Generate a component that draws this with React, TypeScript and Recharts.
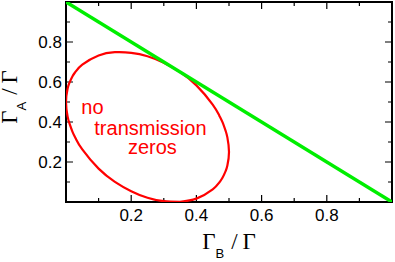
import React from "react";
import { LineChart, Line, XAxis, YAxis, ReferenceDot, ReferenceArea } from "recharts";

// tick marks (inward, on all four sides); labels only on the major ones
const majorTicks = [0.2, 0.4, 0.6, 0.8];
const allTicks = [0.1, 0.2, 0.3, 0.4, 0.5, 0.6, 0.7, 0.8, 0.9];

// green boundary  Γ_A + Γ_B = Γ
const boundary = [
  { x: 0, y: 1 },
  { x: 1, y: 0 },
];

// red closed curve, read around from the bottom
const ellipse = [
  { x: 0.35, y: 0.001 },
  { x: 0.4, y: 0.017 },
  { x: 0.45, y: 0.063 },
  { x: 0.47, y: 0.097 },
  { x: 0.48, y: 0.121 },
  { x: 0.49, y: 0.156 },
  { x: 0.495, y: 0.182 },
  { x: 0.5, y: 0.25 },
  { x: 0.495, y: 0.323 },
  { x: 0.49, y: 0.354 },
  { x: 0.48, y: 0.399 },
  { x: 0.47, y: 0.433 },
  { x: 0.45, y: 0.487 },
  { x: 0.4, y: 0.583 },
  { x: 0.35, y: 0.649 },
  { x: 0.3, y: 0.696 },
  { x: 0.25, y: 0.729 },
  { x: 0.2, y: 0.746 },
  { x: 0.15, y: 0.749 },
  { x: 0.1, y: 0.733 },
  { x: 0.05, y: 0.687 },
  { x: 0.03, y: 0.653 },
  { x: 0.02, y: 0.629 },
  { x: 0.01, y: 0.594 },
  { x: 0.005, y: 0.568 },
  { x: 0, y: 0.5 },
  { x: 0.005, y: 0.427 },
  { x: 0.01, y: 0.396 },
  { x: 0.02, y: 0.351 },
  { x: 0.03, y: 0.317 },
  { x: 0.05, y: 0.263 },
  { x: 0.1, y: 0.167 },
  { x: 0.15, y: 0.101 },
  { x: 0.2, y: 0.054 },
  { x: 0.25, y: 0.021 },
  { x: 0.3, y: 0.004 },
  { x: 0.35, y: 0.001 },
];

const notes = [
  { x: 0.081, y: 0.476, text: "no" },
  { x: 0.259, y: 0.371, text: "transmission" },
  { x: 0.265, y: 0.276, text: "zeros" },
];

const SANS = "Liberation Sans, Arial, sans-serif";
const SERIF = "Liberation Serif, Times New Roman, serif";

// plot box is 326 x 200 px; tick lengths expressed in axis units
const PX_X = 1 / 326;
const PX_Y = 1 / 200;

const isMajor = (v: number) => majorTicks.some((m) => Math.abs(m - v) < 1e-6);
const tickLen = (v: number) => (isMajor(v) ? 7 : 4);

// tick segments for one side, separated by null gaps
function tickPath(side: string) {
  const pts: { x: number; y: number | null }[] = [];
  allTicks.forEach((v) => {
    const lx = tickLen(v) * PX_X;
    const ly = tickLen(v) * PX_Y;
    if (side === "bottom") pts.push({ x: v, y: 0 }, { x: v, y: ly });
    if (side === "top") pts.push({ x: v, y: 1 }, { x: v, y: 1 - ly });
    if (side === "left") pts.push({ x: 0, y: v }, { x: lx, y: v });
    if (side === "right") pts.push({ x: 1, y: v }, { x: 1 - lx, y: v });
    pts.push({ x: v, y: null });
  });
  return pts;
}

function TickLabel(props: any) {
  const { side } = props;
  const x = Number(props.x);
  const y = Number(props.y);
  const v = Number(props.payload.value);
  if (!isMajor(v)) return <g />;
  if (side === "bottom")
    return (
      <text x={x} y={y + 19} textAnchor="middle" fill="#000" fontFamily={SANS} fontSize={17}>
        {v.toFixed(1)}
      </text>
    );
  return (
    <text x={x - 4} y={y} dy="0.36em" textAnchor="end" fill="#000" fontFamily={SANS} fontSize={17}>
      {v.toFixed(1)}
    </text>
  );
}

function Title({ cx, cy, sub, rotate }: any) {
  return (
    <text
      x={cx}
      y={cy}
      transform={rotate ? `rotate(-90 ${cx} ${cy})` : undefined}
      textAnchor="middle"
      fontFamily={SERIF}
      fontSize={23}
      fill="#000"
    >
      Γ
      <tspan fontFamily={SANS} fontSize={13} dy={9}>
        {sub}
      </tspan>
      <tspan dy={-9} dx={7}>
        /
      </tspan>
      <tspan dx={5}>Γ</tspan>
    </text>
  );
}

function XTitle(props: any) {
  const { x, y, width } = props.viewBox;
  return <Title cx={x + width / 2} cy={y + 47} sub="B" />;
}

function YTitle(props: any) {
  const { x, y, height } = props.viewBox;
  return <Title cx={x + 17} cy={y + height / 2 - 5} sub="A" rotate />;
}

export default function App() {
  return (
    <div style={{ position: "absolute", left: 0, top: 0, background: "#fff" }}>
      <LineChart width={395} height={262} margin={{ top: 2, right: 3, left: 0, bottom: 0 }}>
        <XAxis
          type="number"
          dataKey="x"
          domain={[0, 1]}
          ticks={allTicks}
          interval={0}
          tickLine={false}
          tickSize={0}
          tickMargin={0}
          axisLine={false}
          height={60}
          allowDataOverflow
          tick={(p: any) => <TickLabel {...p} side="bottom" />}
          label={(p: any) => <XTitle {...p} />}
        />
        <YAxis
          type="number"
          domain={[0, 1]}
          ticks={allTicks}
          interval={0}
          tickLine={false}
          tickSize={0}
          tickMargin={0}
          axisLine={false}
          width={66}
          allowDataOverflow
          tick={(p: any) => <TickLabel {...p} side="left" />}
          label={(p: any) => <YTitle {...p} />}
        />
        {["bottom", "top", "left", "right"].map((s) => (
          <Line
            key={s}
            data={tickPath(s)}
            dataKey="y"
            type="linear"
            stroke="#000"
            strokeWidth={1.2}
            dot={false}
            activeDot={false}
            connectNulls={false}
            isAnimationActive={false}
          />
        ))}
        <ReferenceArea x1={0} x2={1} y1={0} y2={1} fill="none" stroke="#000" strokeWidth={2} fillOpacity={0} />
        <Line
          data={ellipse}
          dataKey="y"
          type="natural"
          stroke="#ff0000"
          strokeWidth={2.2}
          dot={false}
          isAnimationActive={false}
        />
        <Line
          data={boundary}
          dataKey="y"
          type="linear"
          stroke="#00ee00"
          strokeWidth={3.5}
          dot={false}
          isAnimationActive={false}
        />
        {notes.map((n) => (
          <ReferenceDot
            key={n.text}
            x={n.x}
            y={n.y}
            r={0}
            stroke="none"
            fill="none"
            label={{
              value: n.text,
              position: "center",
              fill: "#ff0000",
              fontSize: 20,
              fontFamily: SANS,
            }}
          />
        ))}
      </LineChart>
    </div>
  );
}
